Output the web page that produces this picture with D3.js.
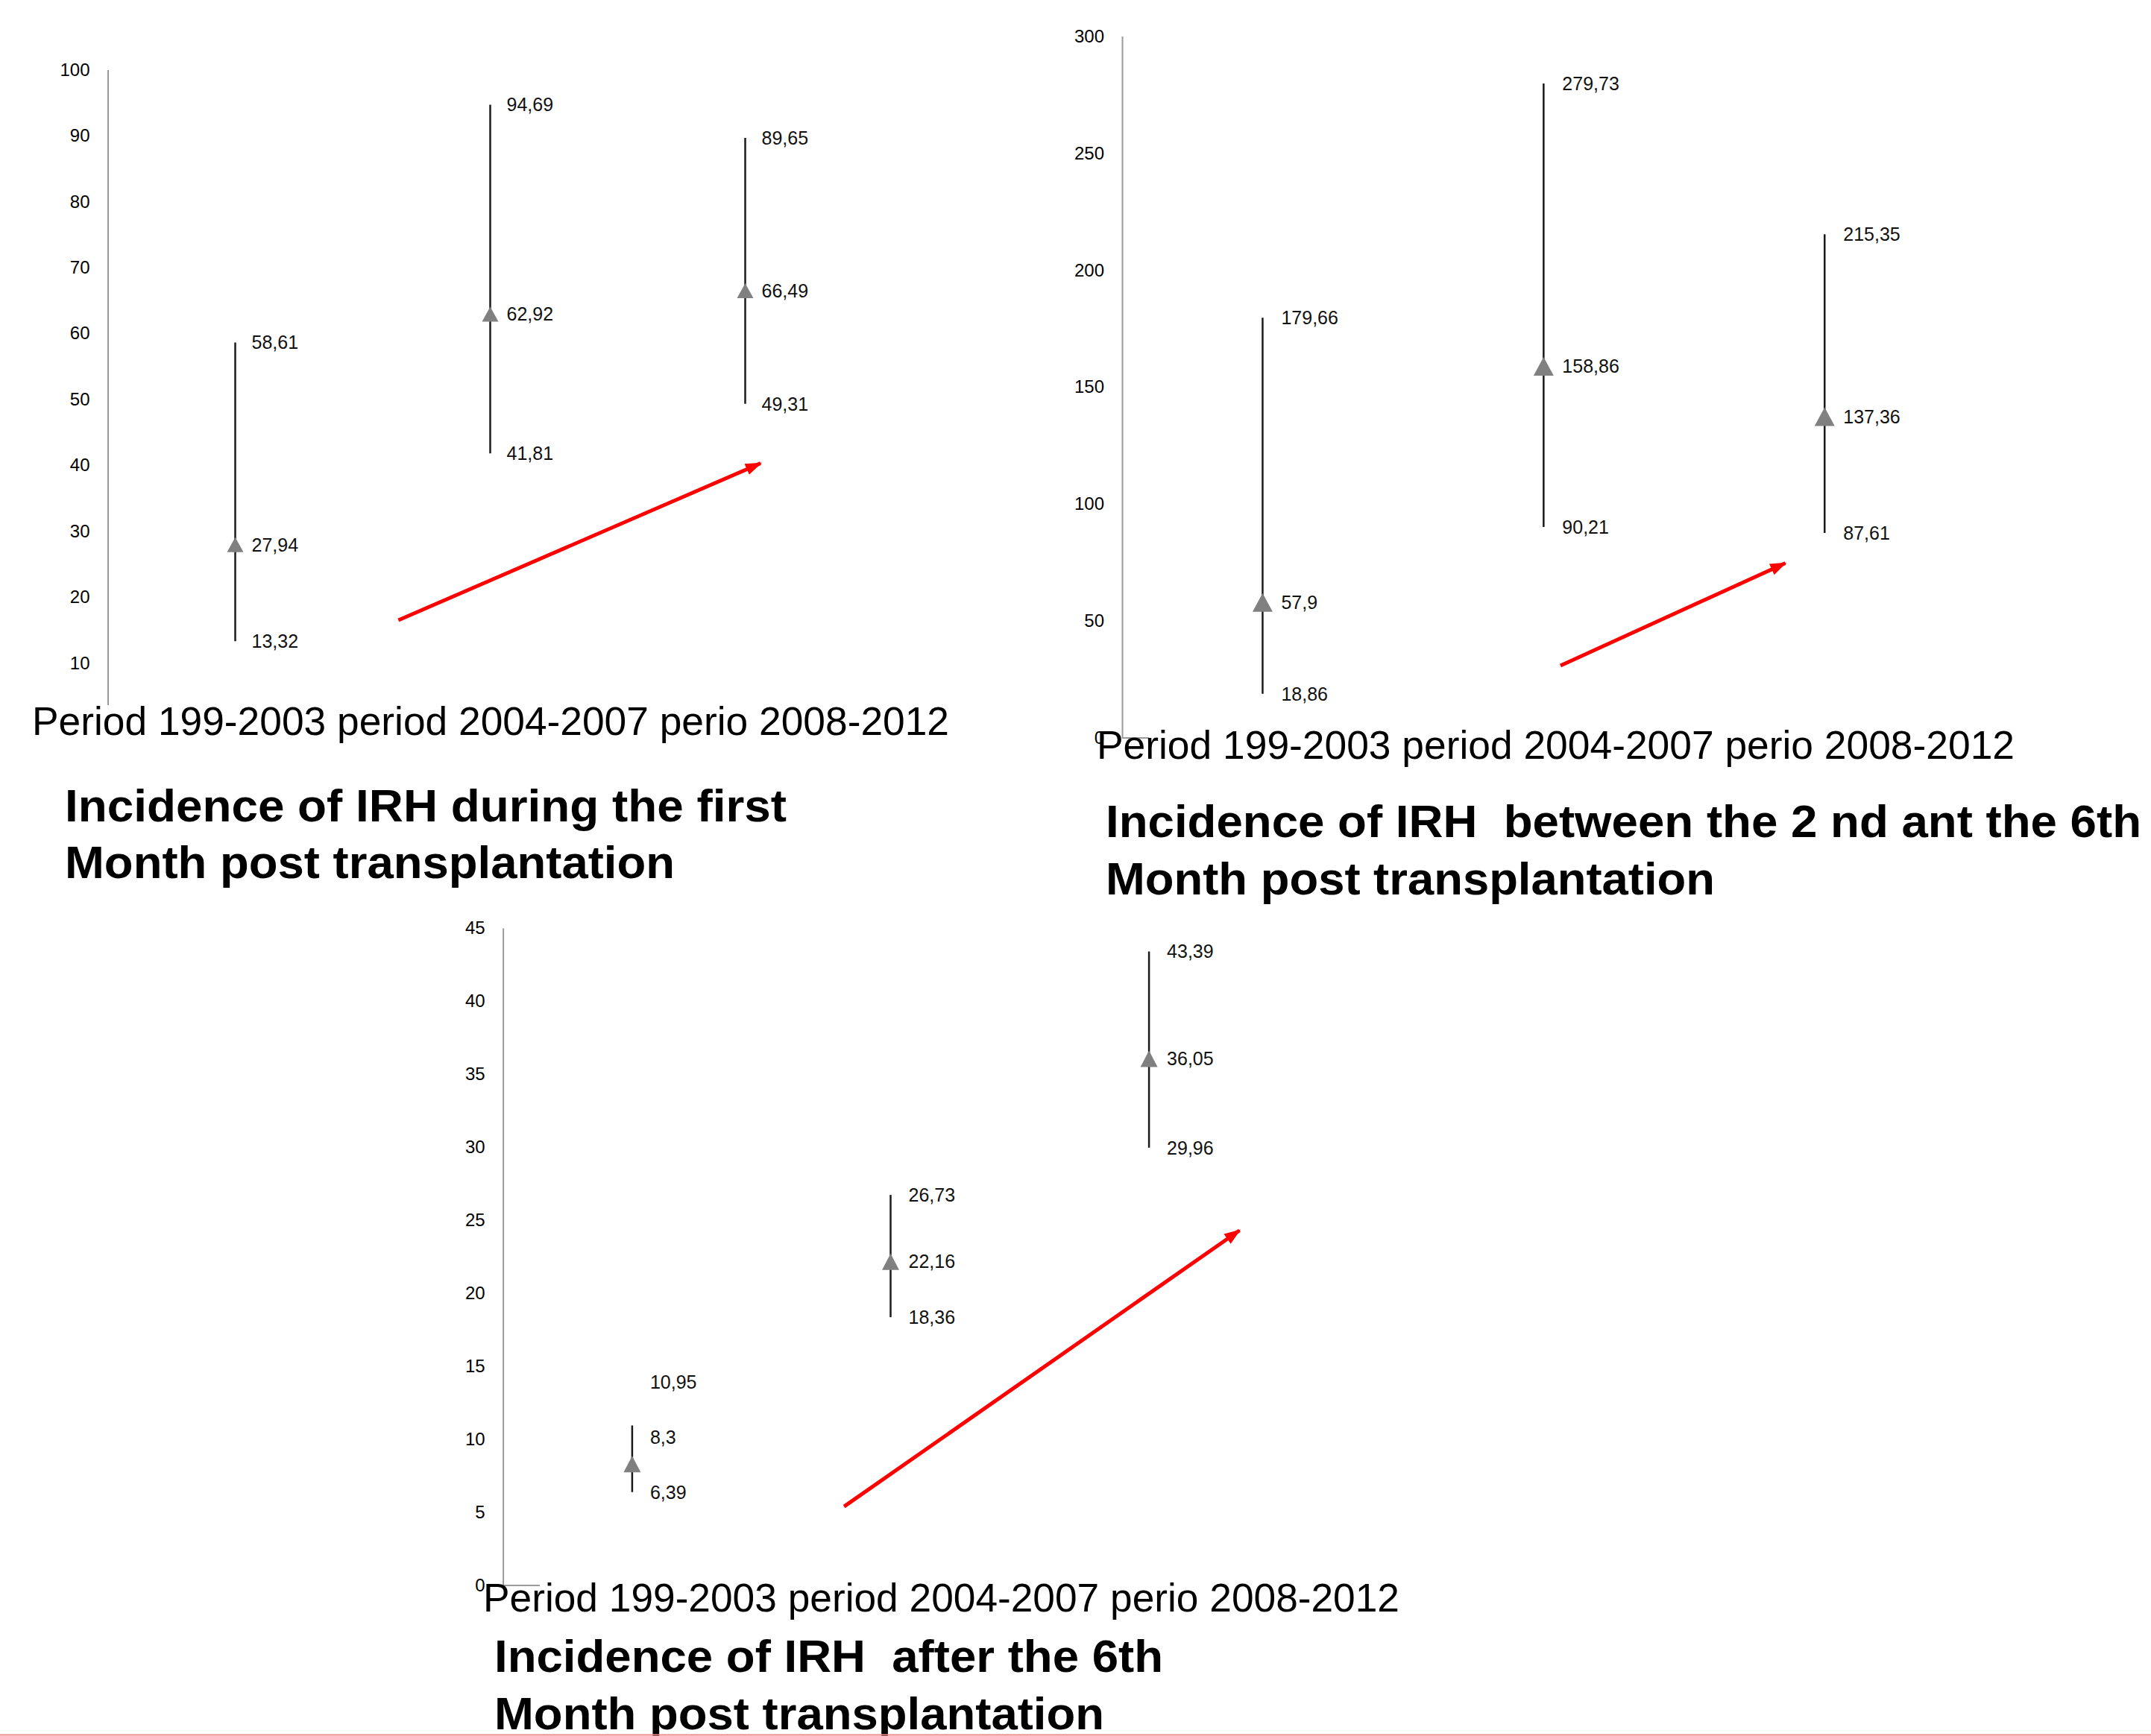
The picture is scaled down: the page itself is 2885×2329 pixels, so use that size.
<!DOCTYPE html>
<html>
<head>
<meta charset="utf-8">
<script src="https://d3js.org/d3.v7.min.js"></script>
<style>
  body { margin: 0; background: #fff; }
  svg { font-family: "Liberation Sans", Arial, sans-serif; display: block; }
  .axis path, .axis line { stroke: #9a9a9a; stroke-width: 2; }
  .axis .tick text { font-size: 24px; fill: #000; }
  .val { font-size: 25px; fill: #111; }
  .cat { font-size: 53px; fill: #000; }
  .title { font-size: 62px; font-weight: bold; fill: #000; white-space: pre; }
  .range { stroke: #1a1a1a; stroke-width: 2.5; }
  .trend { stroke: #ff0000; stroke-width: 5; fill: none; }
</style>
</head>
<body>
<div id="chart"></div>
<script>
  var periods = ["Period 199-2003", "period 2004-2007", "perio 2008-2012"];

  /* first month */
  var firstLow = [13.32, 41.81, 49.31];
  var firstMid = [27.94, 62.92, 66.49];
  var firstHigh = [58.61, 94.69, 89.65];
  var firstTicks = [10, 20, 30, 40, 50, 60, 70, 80, 90, 100];
  var firstMax = 100;
  var firstTitle = ["Incidence of IRH during the first", "Month post transplantation"];
  var firstTrend = [[0.64, 16.5], [2.06, 40.3]];   // [category index, value]

  /* 2nd to 6th month */
  var midLow = [18.86, 90.21, 87.61];
  var midMid = [57.9, 158.86, 137.36];
  var midHigh = [179.66, 279.73, 215.35];
  var midTicks = [0, 50, 100, 150, 200, 250, 300];
  var midMax = 300;
  var midTitle = ["Incidence of IRH  between the 2 nd ant the 6th", "Month post transplantation"];
  var midTrend = [[1.06, 30.9], [1.86, 74.7]];

  /* after 6th month */
  var lateLow = [6.39, 18.36, 29.96];
  var lateMid = [8.3, 22.16, 36.05];
  var lateHigh = [10.95, 26.73, 43.39];
  var lateTicks = [0, 5, 10, 15, 20, 25, 30, 35, 40, 45];
  var lateMax = 45;
  var lateTitle = ["Incidence of IRH  after the 6th", "Month post transplantation"];
  var lateTrend = [[0.82, 5.4], [2.35, 24.3]];

  var width = 2885;
  var height = 2329;

  var panels = [
    { low: firstLow, mid: firstMid, high: firstHigh, ticks: firstTicks, max: firstMax, title: firstTitle, trend: firstTrend,
      x0: 144.5, step: 342, yBottom: 978, yTop: 93.5, tri: [22, 20], dx: 22,
      catX: 43, catY: 986, catW: 1230, mask: [40, 946, 1240, 56],
      titleX: 87, titleY: [1101.7, 1178.3], titleW: [968, 818] },
    { low: midLow, mid: midMid, high: midHigh, ticks: midTicks, max: midMax, title: midTitle, trend: midTrend,
      x0: 1505, step: 376.9, yBottom: 990, yTop: 48.5, tri: [27, 25], dx: 25,
      catX: 1471, catY: 1018, catW: 1231, mask: [1541, 976, 1170, 56],
      titleX: 1483, titleY: [1122.7, 1200], titleW: [1389, 817] },
    { low: lateLow, mid: lateMid, high: lateHigh, ticks: lateTicks, max: lateMax, title: lateTitle, trend: lateTrend,
      x0: 674.6, step: 346.6, yBottom: 2127, yTop: 1245, tri: [23, 22], dx: 24,
      catX: 648, catY: 2161.7, catW: 1229, mask: [724, 2121, 1160, 56],
      titleX: 663, titleY: [2243, 2320], titleW: [897, 818] }
  ];

  var fmt = function(v) { return String(v).replace(".", ","); };

  var svg = d3.select("#chart").append("svg")
    .attr("width", width)
    .attr("height", height);

  svg.append("rect").attr("width", width).attr("height", height).attr("fill", "#fff");

  svg.append("defs").append("marker")
    .attr("id", "head")
    .attr("markerUnits", "userSpaceOnUse")
    .attr("viewBox", "0 -10 22 20")
    .attr("refX", 20).attr("refY", 0)
    .attr("markerWidth", 22).attr("markerHeight", 20)
    .attr("orient", "auto")
    .append("path")
    .attr("d", "M0,-8L22,0L0,8Z")
    .attr("fill", "#ff0000");

  panels.forEach(function(p) {
    var x = d3.scaleLinear().domain([-0.5, 2.5]).range([p.x0, p.x0 + 3 * p.step]);
    var y = d3.scaleLinear().domain([0, p.max]).range([p.yBottom, p.yTop]);
    var g = svg.append("g");

    /* axes */
    g.append("line")
      .attr("class", "axis-x")
      .attr("x1", x(-0.5)).attr("x2", x(2.5))
      .attr("y1", y(0)).attr("y2", y(0))
      .attr("stroke", "#9a9a9a").attr("stroke-width", 2);

    g.append("g")
      .attr("class", "axis")
      .attr("transform", "translate(" + x(-0.5) + ",0)")
      .call(d3.axisLeft(y).tickValues(p.ticks).tickSize(0).tickPadding(24))
      .call(function(a) { a.selectAll(".tick text").attr("font-family", null).attr("font-size", null); });

    /* high-low lines */
    var idx = d3.range(periods.length);
    g.selectAll(".range")
      .data(idx).enter()
      .append("line")
      .attr("class", "range")
      .attr("x1", function(i) { return x(i); })
      .attr("x2", function(i) { return x(i); })
      .attr("y1", function(i) { return y(p.low[i]); })
      .attr("y2", function(i) { return y(p.high[i]); });

    /* triangle markers */
    var w = p.tri[0], h = p.tri[1];
    g.selectAll(".marker")
      .data(idx).enter()
      .append("path")
      .attr("class", "marker")
      .attr("d", "M0," + (-h / 2) + "L" + (w / 2) + "," + (h / 2) + "L" + (-w / 2) + "," + (h / 2) + "Z")
      .attr("transform", function(i) { return "translate(" + x(i) + "," + y(p.mid[i]) + ")"; })
      .attr("fill", "#808080");

    /* value labels, pushed apart when too close */
    var minGap = 74;
    idx.forEach(function(i) {
      var yl = y(p.low[i]);
      var ym = Math.min(y(p.mid[i]), yl - minGap);
      var yh = Math.min(y(p.high[i]), ym - minGap);
      [[p.low[i], yl], [p.mid[i], ym], [p.high[i], yh]].forEach(function(d) {
        g.append("text")
          .attr("class", "val")
          .attr("x", x(i) + p.dx)
          .attr("y", d[1])
          .attr("dy", "0.35em")
          .text(fmt(d[0]));
      });
    });

    /* trend arrow */
    g.append("line")
      .attr("class", "trend")
      .attr("x1", x(p.trend[0][0])).attr("y1", y(p.trend[0][1]))
      .attr("x2", x(p.trend[1][0])).attr("y2", y(p.trend[1][1]))
      .attr("marker-end", "url(#head)");

    /* category text box */
    g.append("rect")
      .attr("x", p.mask[0]).attr("y", p.mask[1])
      .attr("width", p.mask[2]).attr("height", p.mask[3])
      .attr("fill", "#fff");

    g.append("text")
      .attr("class", "cat")
      .attr("x", p.catX)
      .attr("y", p.catY)
      .attr("textLength", p.catW)
      .attr("lengthAdjust", "spacingAndGlyphs")
      .text(periods.join(" "));

    /* title */
    p.title.forEach(function(t, k) {
      g.append("text")
        .attr("class", "title")
        .attr("x", p.titleX)
        .attr("y", p.titleY[k])
        .attr("textLength", p.titleW[k])
        .attr("lengthAdjust", "spacingAndGlyphs")
        .text(t);
    });
  });

  svg.append("line")
    .attr("x1", 0).attr("x2", width)
    .attr("y1", 2327.5).attr("y2", 2327.5)
    .attr("stroke", "#f08a8a").attr("stroke-width", 2);
</script>
</body>
</html>
